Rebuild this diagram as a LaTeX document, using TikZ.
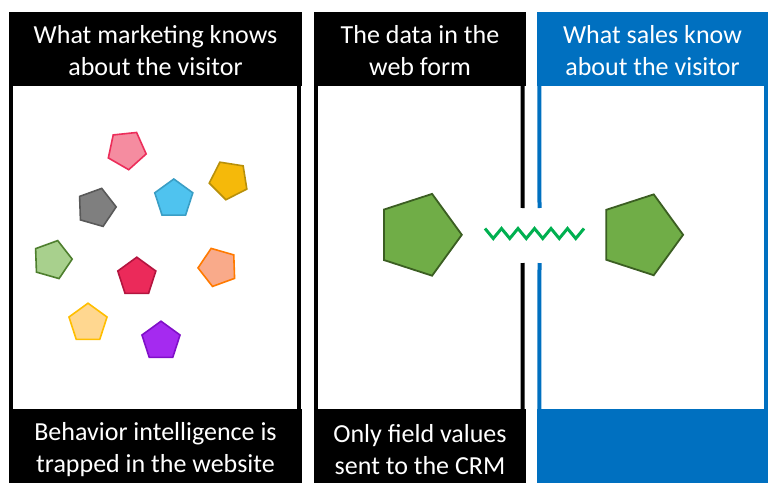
\documentclass[tikz,border=0pt]{standalone}
\usepackage{fontspec}
\setmainfont{Carlito}
\usetikzlibrary{shapes.geometric}
\definecolor{msblue}{HTML}{0070C0}
\definecolor{zgreen}{HTML}{00B050}
\newcommand{\hstrut}{\rule{0pt}{22pt}}
\newcommand{\fstrut}{\rule{0pt}{25pt}}
\begin{document}
\begin{tikzpicture}[x=1pt,y=-1pt,
  bar/.style={minimum width=293pt,minimum height=74pt,inner sep=0pt,text=white,align=center,
    font=\fontsize{26}{32}\selectfont},
  sideline/.style={line width=4pt},
  pent/.style={regular polygon,regular polygon sides=5,minimum size=40pt,inner sep=0pt,line width=1.6pt},
  bigpent/.style={pent,minimum size=86pt,fill=bigfill,draw=bigdraw,line width=1.8pt,shape border rotate=-18},
  zig/.style={zgreen,line width=3pt,line join=miter}]
\definecolor{bigfill}{HTML}{70AD47}
\definecolor{bigdraw}{HTML}{3B5E22}
\useasboundingbox (0,0) rectangle (778,497);
% headers
\node[bar,fill=black] (h1) at (155.5,49) {\hstrut What marketing knows\\about the visitor};
\node[bar,fill=black,minimum width=212pt] (h2) at (420,49) {\hstrut The data in the\\web form};
\node[bar,fill=msblue,minimum width=231pt] (h3) at (652.5,49) {\hstrut What sales know\\about the visitor};
% footers
\node[bar,fill=black] (f1) at (155.5,446) {\fstrut Behavior intelligence is\\trapped in the website};
\node[bar,fill=black,minimum width=212pt] (f2) at (420,446) {\fstrut Only field values\\sent to the CRM};
\node[bar,fill=msblue,minimum width=231pt] (f3) at (652.5,446) {};
% side lines
\draw[sideline] ([xshift=2pt]h1.south west) -- ([xshift=2pt]f1.north west);
\draw[sideline] ([xshift=-3pt]h1.south east) -- ([xshift=-3pt]f1.north east);
\draw[sideline] ([xshift=2pt]h2.south west) -- ([xshift=2pt]f2.north west);
\coordinate (g1) at (522.5,208);
\coordinate (g2) at (522.5,263);
\coordinate (g3) at (539.5,208);
\coordinate (g4) at (539.5,263);
\draw[sideline] ([xshift=-3.5pt]h2.south east) -- (g1);
\draw[sideline] (g2) -- ([xshift=-3.5pt]f2.north east);
\draw[sideline,msblue] ([xshift=2.5pt]h3.south west) -- (g3);
\draw[sideline,msblue] (g4) -- ([xshift=2.5pt]f3.north west);
\draw[sideline,msblue] ([xshift=-2.5pt]h3.south east) -- ([xshift=-2.5pt]f3.north east);
% small pentagons
\node[pent,fill={rgb,255:red,245;green,140;blue,160},draw={rgb,255:red,236;green,45;blue,90},shape border rotate=-30] (p1) at (126.6,149.8) {};
\node[pent,fill={rgb,255:red,245;green,185;blue,10},draw={rgb,255:red,184;green,144;blue,10},shape border rotate=27] (p2) at (229,180) {};
\node[pent,fill={rgb,255:red,127;green,127;blue,127},draw={rgb,255:red,89;green,89;blue,89},shape border rotate=-16] (p3) at (96.2,207.6) {};
\node[pent,fill={rgb,255:red,79;green,195;blue,239},draw={rgb,255:red,58;green,158;blue,197}] (p4) at (173.8,199) {};
\node[pent,fill={rgb,255:red,168;green,208;blue,141},draw={rgb,255:red,78;green,127;blue,46},shape border rotate=-16] (p5) at (52.2,259.8) {};
\node[pent,fill={rgb,255:red,235;green,42;blue,90},draw={rgb,255:red,179;green,21;blue,63}] (p6) at (136.8,277.2) {};
\node[pent,fill={rgb,255:red,249;green,170;blue,138},draw={rgb,255:red,255;green,122;blue,0},shape border rotate=20] (p7) at (218,267.2) {};
\node[pent,fill={rgb,255:red,255;green,215;blue,144},draw={rgb,255:red,255;green,190;blue,0}] (p8) at (88,323.2) {};
\node[pent,fill={rgb,255:red,165;green,42;blue,240},draw={rgb,255:red,128;green,16;blue,200}] (p9) at (161,341.2) {};
% big pentagons
\node[bigpent] (b1) at (418.8,234.8) {};
\node[bigpent,minimum size=85pt] (b2) at (640.6,234.8) {};
% zigzag
\coordinate (z1) at (485,228.5);
\draw[zig] (z1) foreach \i in {1,...,6} { -- ++(8.25,10) -- ++(8.25,-10) };
\end{tikzpicture}
\end{document}
